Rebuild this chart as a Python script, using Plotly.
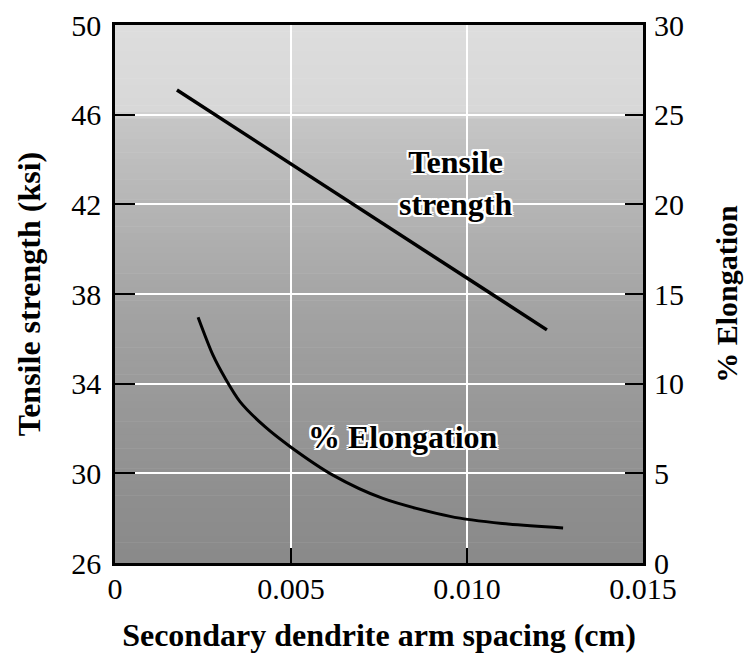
import plotly.graph_objects as go
import numpy as np

# ---- data ----
tensile_x = [0.00176, 0.01227]
tensile_ksi = [47.1, 36.4]

elong_x = [0.00236, 0.00278, 0.00313, 0.00355, 0.00426, 0.00497, 0.00619,
           0.00761, 0.00952, 0.01100, 0.01273]
elong_pct = [13.7, 11.6, 10.3, 9.0, 7.6, 6.5, 4.9, 3.6, 2.6, 2.2, 1.95]

x_ticks = [0, 0.005, 0.010, 0.015]
x_ticklabels = ["0", "0.005", "0.010", "0.015"]
y_ticks = [26, 30, 34, 38, 42, 46, 50]
y2_ticks = [0, 5, 10, 15, 20, 25, 30]

FONT = "Liberation Serif"
halo = ", ".join(f"{dx}px {dy}px 0 #fff" for dx, dy in
                 [(-2, -2), (2, -2), (-2, 2), (2, 2), (0, 2), (2, 0), (0, -2), (-2, 0)])

fig = go.Figure()
fig.add_trace(go.Scatter(x=tensile_x, y=tensile_ksi, mode="lines",
                         line=dict(color="black", width=3.5), showlegend=False))
fig.add_trace(go.Scatter(x=elong_x, y=elong_pct, mode="lines", yaxis="y2",
                         line=dict(color="black", width=3, shape="spline",
                                   smoothing=0.8),
                         showlegend=False))

# gradient background strips (decoration)
stops = [(0.0, 222), (0.16, 216), (0.18, 198), (0.33, 182), (0.52, 164),
         (0.70, 153), (0.88, 143), (1.0, 138)]
n = 80
shapes = []
for i in range(n):
    t0, t1 = i / n, (i + 1) / n
    tm = (t0 + t1) / 2
    g = int(np.interp(tm, [s[0] for s in stops], [s[1] for s in stops]))
    shapes.append(dict(type="rect", xref="paper", yref="paper", x0=0, x1=1,
                       y0=1 - t1, y1=1 - t0 + 0.001, line=dict(width=0),
                       fillcolor=f"rgb({g},{g},{g})", layer="below"))

# page body adds an 8px offset, so the figure is 8px smaller on each axis
fig.update_layout(
    width=745, height=651,
    margin=dict(l=107, r=110, t=17, b=96),
    paper_bgcolor="white", plot_bgcolor="rgba(0,0,0,0)",
    font=dict(family=FONT, color="black", size=28),
    shapes=shapes,
    xaxis=dict(range=[0, 0.015], tickvals=x_ticks, ticktext=x_ticklabels,
               ticks="inside", ticklen=15, tickwidth=2, tickcolor="black",
               showline=True, linecolor="black", linewidth=2.5, mirror=True,
               showgrid=True, gridcolor="white", gridwidth=2, zeroline=False,
               automargin=False, tickfont=dict(size=30), ticklabelstandoff=-3,
               ticklabeloverflow="allow",
               title=dict(text="<b>Secondary dendrite arm spacing (cm)</b>",
                          font=dict(size=32), standoff=20)),
    yaxis=dict(range=[26, 50], tickvals=y_ticks, ticks="inside", ticklen=20,
               tickwidth=2, tickcolor="black", showline=True, linecolor="black",
               linewidth=2.5, mirror=True, showgrid=True, gridcolor="white",
               gridwidth=2, zeroline=False, automargin=False,
               tickfont=dict(size=30), ticklabelstandoff=5,
               ticklabeloverflow="allow",
               title=dict(text="<b>Tensile strength (ksi)</b>",
                          font=dict(size=32), standoff=22)),
    yaxis2=dict(range=[0, 30], tickvals=y2_ticks, overlaying="y", side="right",
                ticks="inside", ticklen=18, tickwidth=2, tickcolor="black",
                showgrid=False, zeroline=False, showline=False, automargin=False,
                tickfont=dict(size=30), ticklabelstandoff=10,
                ticklabeloverflow="allow",
                title=dict(text="<b>% Elongation</b>", font=dict(size=30),
                           standoff=32)),
    annotations=[
        dict(x=0.00966, y=42.95, xref="x", yref="y", showarrow=False,
             text="<b>Tensile<br>strength</b>",
             font=dict(size=32, family=FONT, shadow=halo)),
        dict(x=0.00818, y=31.6, xref="x", yref="y", showarrow=False,
             text="<b>% Elongation</b>",
             font=dict(size=32, family=FONT, shadow=halo)),
    ],
)

fig.write_html("out.html")
